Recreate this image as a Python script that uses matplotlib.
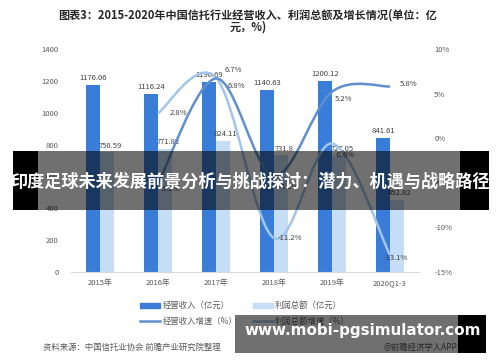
import numpy as np
import matplotlib
matplotlib.use('Agg')
import matplotlib.pyplot as plt
from matplotlib.path import Path
from matplotlib.patches import PathPatch, Rectangle
from matplotlib.lines import Line2D

plt.rcParams['font.family'] = ['Noto Sans CJK SC', 'DejaVu Sans']

# data
years = ['2015年', '2016年', '2017年', '2018年', '2019年', '2020Q1-3']
income = [1176.06, 1116.24, 1190.69, 1140.63, 1200.12, 841.61]
profit = [750.59, 771.82, 824.11, 731.8, 727.05, 452.82]
income_growth = [-5.1, 6.7, -4.2, 5.2, 5.8]     # 2016 onwards
profit_growth = [2.8, 6.8, -11.2, -0.6, -13.1]  # 2016 onwards
left_ticks = [0, 200, 400, 600, 800, 1000, 1200, 1400]
right_ticks = [-15, -10, -5, 0, 5, 10]

c_income = '#3a7dd9'
c_profit = '#c5ddf5'
c_inc_line = '#5f8fcc'
c_pro_line = '#a3c5ea'
c_text = '#595959'


def smooth_path(xs, ys):
    # Excel-like smoothed line: cubic bezier through the points
    pts = np.column_stack([xs, ys]).astype(float)
    ext = np.vstack([pts[0], pts, pts[-1]])
    verts = [pts[0]]
    codes = [Path.MOVETO]
    for i in range(len(pts) - 1):
        p0, p1, p2, p3 = ext[i], ext[i + 1], ext[i + 2], ext[i + 3]
        verts += [p1 + (p2 - p0) / 6, p2 - (p3 - p1) / 6, p2]
        codes += [Path.CURVE4] * 3
    return Path(verts, codes)


fig = plt.figure(figsize=(5, 3.62), dpi=100)
ax = fig.add_axes([0.142, 0.2486, 0.696, 0.616])
x = np.arange(len(years))
w = 0.24

ax.bar(x - w / 2, income, w, color=c_income, zorder=2)
ax.bar(x + w / 2, profit, w, color=c_profit, zorder=2)
for i in range(len(years)):
    ax.text(x[i] - w / 2, income[i] + 18, f'{income[i]:g}', ha='center', va='bottom',
            fontsize=5.5, color='#404040')
    ax.text(x[i] + w / 2 + 0.05, profit[i] + 18, f'{profit[i]:g}', ha='center', va='bottom',
            fontsize=5.5, color='#404040')

ax.set_xlim(-0.5, len(years) - 0.5)
ax.set_ylim(0, 1400)
ax.set_yticks(left_ticks)
ax.set_xticks(x)
ax.set_xticklabels(years)
for s in ['top', 'right', 'left']:
    ax.spines[s].set_visible(False)
ax.spines['bottom'].set_color('#d9d9d9')
ax.tick_params(axis='both', length=0, labelsize=5.5, labelcolor=c_text)
ax.tick_params(axis='y', pad=9)
ax.tick_params(axis='x', pad=5)

ax2 = ax.twinx()
ax2.set_ylim(-15, 10)
ax2.set_yticks(right_ticks)
ax2.set_yticklabels([f'{t}%' for t in right_ticks])
for s in ax2.spines.values():
    s.set_visible(False)
ax2.tick_params(axis='y', length=0, labelsize=5.5, labelcolor=c_text, pad=11)

gx = x[1:]
ax2.add_patch(PathPatch(smooth_path(gx, profit_growth), fill=False, edgecolor=c_pro_line,
                        lw=1.8, zorder=3))
ax2.add_patch(PathPatch(smooth_path(gx, income_growth), fill=False, edgecolor=c_inc_line,
                        lw=1.8, zorder=3))

inc_off = [(0.2, -0.6), (0.3, 1.0), (0.25, -1.3), (0.2, -0.8), (0.32, 0.3)]
pro_off = [(0.35, 0.0), (0.35, -0.9), (0.28, 0.0), (0.22, -1.3), (0.1, -0.3)]
for i in range(len(gx)):
    ax2.text(gx[i] + inc_off[i][0], income_growth[i] + inc_off[i][1], f'{income_growth[i]:g}%',
             ha='center', va='center', fontsize=5.5, color='#404040', zorder=4)
    ax2.text(gx[i] + pro_off[i][0], profit_growth[i] + pro_off[i][1], f'{profit_growth[i]:g}%',
             ha='center', va='center', fontsize=5.5, color='#404040', zorder=4)

# title
fig.text(0.496, 0.958, '图表3：2015-2020年中国信托行业经营收入、利润总额及增长情况(单位：亿',
         ha='center', va='center', fontsize=8, fontweight='bold', color='#262626')
fig.text(0.496, 0.925, '元，%)', ha='center', va='center', fontsize=8,
         fontweight='bold', color='#262626')

# legend
handles = [Rectangle((0, 0), 1, 1, color=c_income),
           Line2D([], [], color=c_inc_line, lw=1.8),
           Rectangle((0, 0), 1, 1, color=c_profit),
           Line2D([], [], color=c_pro_line, lw=1.8)]
labels = ['经营收入（亿元）', '经营收入增速（%）', '利润总额（亿元）', '利润总额增速（%）']
fig.legend(handles, labels, ncol=2, loc='center', bbox_to_anchor=(0.49, 0.134),
           frameon=False, fontsize=6, handlelength=2.4, handleheight=0.6,
           handletextpad=0.3, columnspacing=1.8, labelspacing=0.8, labelcolor=c_text)

# source
fig.text(0.086, 1 - 347 / 362, '资料来源：中国信托业协会 前瞻产业研究院整理',
         ha='left', va='center', fontsize=6, color=c_text)
fig.text(0.915, 1 - 347 / 362, '@前瞻经济学人APP', ha='right', va='center',
         fontsize=6, color=c_text)

# overlay banners
def band(x0, x1, y0, y1, alpha):
    fig.patches.append(Rectangle((x0 / 500, 1 - y1 / 362), (x1 - x0) / 500, (y1 - y0) / 362,
                                 transform=fig.transFigure, facecolor='black',
                                 alpha=alpha, zorder=10))

band(38, 460, 151, 210, 0.56)
band(13, 38, 151, 210, 1)
band(460, 489, 151, 210, 1)
fig.text(250.5 / 500, 1 - 182 / 362, '印度足球未来发展前景分析与挑战探讨：潜力、机遇与战略路径',
         ha='center', va='center', fontsize=12.3, fontweight='bold', color='white', zorder=11)

band(235, 458, 315, 353, 0.56)
band(458, 486, 315, 353, 1)
fig.text(362.5 / 500, 1 - 331 / 362, 'www.mobi-pgsimulator.com', ha='center', va='center',
         fontsize=10.9, fontweight='bold', color='white', family='DejaVu Sans', zorder=11)

fig.savefig('out.png', dpi=100)
